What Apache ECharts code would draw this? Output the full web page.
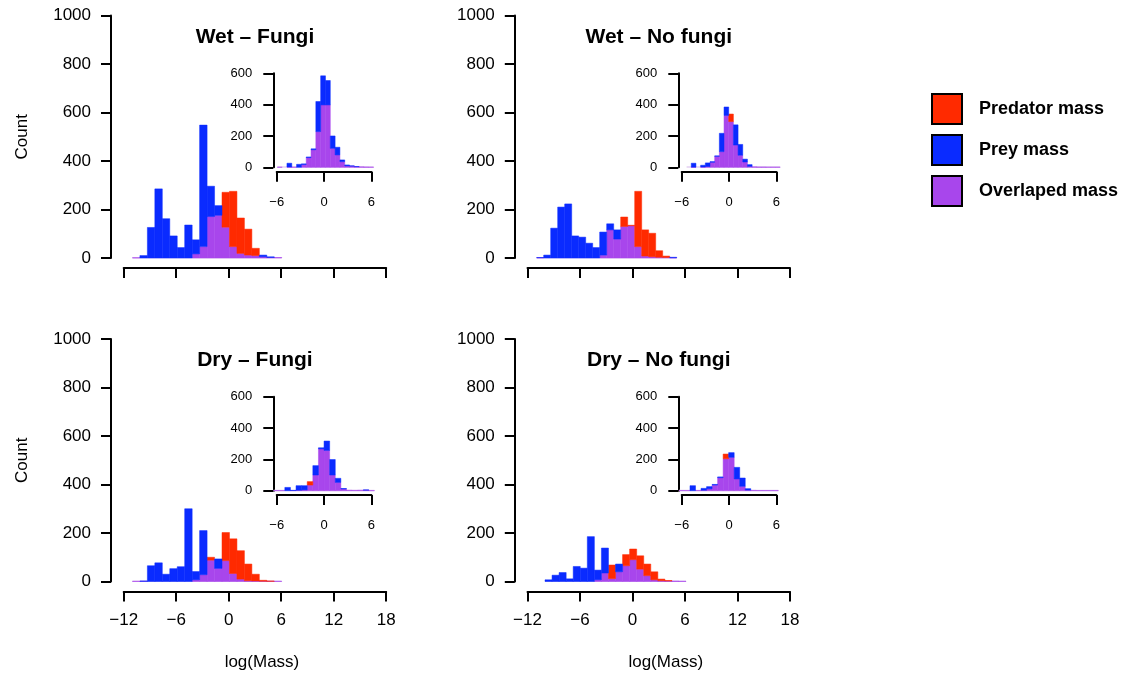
<!DOCTYPE html>
<html>
<head>
<meta charset="utf-8">
<title>Predator and prey body mass</title>
<script src="https://cdn.jsdelivr.net/npm/echarts@6/dist/echarts.min.js"></script>
<style>
  html, body { margin: 0; padding: 0; background: #fff; }
  #chart { width: 1137px; height: 675px; }
</style>
</head>
<body>
<div id="chart"></div>
<script>
// ---- data ---------------------------------------------------------------
const panelTitles = ['Wet \u2013 Fungi', 'Wet \u2013 No fungi', 'Dry \u2013 Fungi', 'Dry \u2013 No fungi'];
const seriesNames = ['Predator mass', 'Prey mass', 'Overlaped mass'];

// main histograms: first break and bin width of log(Mass)
const mainBreakStart = [-11.0, -10.95, -11.0, -10.0];
const mainBinWidth   = [0.853, 0.8, 0.853, 0.806];

const predWetFungi   = [1, 0, 0, 0, 0, 0, 0, 0, 17, 47, 171, 176, 271, 275, 165, 119, 40, 5, 2, 2];
const preyWetFungi   = [1, 10, 126, 285, 162, 91, 43, 136, 75, 548, 296, 216, 127, 47, 19, 12, 10, 12, 5, 2];
const predWetNoFungi = [1, 0, 0, 0, 0, 0, 0, 0, 0, 12, 116, 78, 169, 135, 275, 116, 102, 30, 8, 1];
const preyWetNoFungi = [2, 12, 123, 210, 223, 91, 86, 61, 43, 107, 141, 116, 130, 133, 47, 8, 5, 3, 2, 3];
const predDryFungi   = [1, 1, 0, 0, 0, 0, 0, 0, 7, 28, 100, 54, 202, 176, 127, 72, 30, 5, 2, 1];
const preyDryFungi   = [1, 2, 65, 77, 30, 53, 61, 300, 41, 210, 88, 93, 86, 33, 10, 3, 2, 1, 1, 1];
const predDryNoFungi = [0, 0, 0, 0, 0, 0, 0, 7, 35, 68, 40, 111, 134, 106, 72, 40, 10, 4, 2, 1];
const preyDryNoFungi = [7, 26, 37, 11, 62, 55, 185, 47, 138, 12, 72, 65, 90, 51, 24, 7, 3, 2, 2, 1];

// inset histograms
const insetBreakStart = [-5.92, -5.38, -6.39, -6.35];
const insetBinWidth   = [0.61, 0.593, 0.71, 0.7];

const predInWetFungi   = [1, 0, 2, 1, 0, 18, 62, 112, 228, 398, 398, 121, 79, 36, 9, 8, 4, 3, 2, 1];
const preyInWetFungi   = [1, 0, 26, 1, 19, 22, 66, 118, 420, 584, 554, 200, 128, 47, 15, 9, 5, 3, 2, 1];
const predInWetNoFungi = [0, 1, 0, 2, 5, 32, 70, 100, 331, 340, 142, 77, 34, 6, 3, 2, 2, 1, 1, 1];
const preyInWetNoFungi = [0, 26, 0, 13, 28, 36, 73, 217, 385, 292, 271, 146, 52, 17, 3, 2, 2, 1, 1, 1];
const predInDryFungi   = [1, 1, 0, 1, 3, 5, 58, 100, 267, 257, 100, 53, 11, 3, 2, 3, 4, 1];
const preyInDryFungi   = [1, 1, 21, 2, 32, 32, 36, 160, 274, 317, 199, 79, 14, 3, 2, 3, 5, 1];
const predInDryNoFungi = [1, 1, 0, 1, 3, 12, 36, 83, 234, 213, 75, 28, 4, 2, 1, 1, 1, 1];
const preyInDryNoFungi = [1, 1, 32, 1, 15, 26, 40, 88, 204, 243, 149, 81, 13, 2, 1, 1, 1, 1];

// axis ticks
const mainXTicks  = { min: -12, max: 18, step: 6 };
const mainYTicks  = { min: 0, max: 1000, step: 200 };
const insetXTicks = { min: -6, max: 6, step: 6 };
const insetYTicks = { min: 0, max: 600, step: 200 };

// ---- styling / layout ---------------------------------------------------
const FONT = '"Liberation Sans", Arial, Helvetica, sans-serif';
const COLORS = { 'Predator mass': '#ff2a00', 'Prey mass': '#0a2bff', 'Overlaped mass': '#a846ec' };
const BASE_COLOR = '#e3cff2';

const panels = [
  { pred: predWetFungi,   prey: preyWetFungi,   inPred: predInWetFungi,   inPrey: preyInWetFungi },
  { pred: predWetNoFungi, prey: preyWetNoFungi, inPred: predInWetNoFungi, inPrey: preyInWetNoFungi },
  { pred: predDryFungi,   prey: preyDryFungi,   inPred: predInDryFungi,   inPrey: preyInDryFungi },
  { pred: predDryNoFungi, prey: preyDryNoFungi, inPred: predInDryNoFungi, inPrey: preyInDryNoFungi }
];

const mainLeft = [123.7, 527.5, 123.7, 527.5];
const mainTop  = [15.5, 15.5, 339, 339];
const MAIN_W = 262.5, MAIN_H = 242.5;
const insetLeft = [276.7, 681.7, 276.7, 681.7];
const insetTop  = [73.3, 73.3, 396.7, 396.7];
const INSET_W = 94.7, INSET_H = 94;

// plain numbers with a true minus sign, no thousands separator
const fmt = v => String(v).replace('-', '\u2212');

// one rectangle per bin, from y0 to y1
function renderBin(params, api) {
  const x0 = api.value(0), x1 = api.value(1), y0 = api.value(2), y1 = api.value(3);
  if (!(y1 > y0)) return null;
  const a = api.coord([x0, y0]);
  const b = api.coord([x1, y1]);
  const fill = api.visual('color');
  return {
    type: 'rect',
    shape: { x: a[0], y: b[1], width: b[0] - a[0], height: a[1] - b[1] },
    style: { fill: fill, stroke: fill, lineWidth: 0.5 }
  };
}

// thin line along the bottom of all bins
function renderBase(params, api) {
  const a = api.coord([api.value(0), 0]);
  const b = api.coord([api.value(1), 0]);
  return {
    type: 'rect',
    shape: { x: a[0], y: a[1] - 1, width: b[0] - a[0], height: 1.5 },
    style: { fill: BASE_COLOR }
  };
}

// split predator / prey counts into overlap + excess pieces
function histSeries(pred, prey, start, width, axisIndex) {
  const overlap = [], predEx = [], preyEx = [];
  pred.forEach((p, i) => {
    const q = prey[i];
    const x0 = start + i * width, x1 = x0 + width;
    const m = Math.min(p, q);
    overlap.push([x0, x1, 0, m]);
    predEx.push([x0, x1, m, p > q ? p : m]);
    preyEx.push([x0, x1, m, q > p ? q : m]);
  });
  const common = (name, data, color) => ({
    type: 'custom', name: name, renderItem: name ? renderBin : renderBase,
    xAxisIndex: axisIndex, yAxisIndex: axisIndex,
    encode: { x: [0, 1], y: name ? [2, 3] : [] },
    itemStyle: { color: color }, data: data, silent: true, animation: false
  });
  return [
    common('', [[start, start + pred.length * width]], BASE_COLOR),
    common('Overlaped mass', overlap, COLORS['Overlaped mass']),
    common('Predator mass', predEx, COLORS['Predator mass']),
    common('Prey mass', preyEx, COLORS['Prey mass'])
  ];
}

const axisLineStyle = { color: '#000', width: 2 };
const grid = [], xAxis = [], yAxis = [], series = [], title = [];

panels.forEach((pn, i) => {
  const bottom = i >= 2, leftCol = i % 2 === 0;
  const gMain = 2 * i, gInset = 2 * i + 1;

  grid.push({ left: mainLeft[i], top: mainTop[i], width: MAIN_W, height: MAIN_H });
  grid.push({ left: insetLeft[i], top: insetTop[i], width: INSET_W, height: INSET_H });

  xAxis.push({
    gridIndex: gMain, type: 'value', min: mainXTicks.min, max: mainXTicks.max, interval: mainXTicks.step,
    offset: 10,
    axisLine: { show: true, onZero: false, lineStyle: axisLineStyle },
    axisTick: { show: true, length: 10, lineStyle: axisLineStyle },
    axisLabel: { show: bottom, margin: 20, fontSize: 17, color: '#000', fontFamily: FONT, formatter: fmt },
    splitLine: { show: false },
    name: bottom ? 'log(Mass)' : '', nameLocation: 'middle', nameGap: 62,
    nameTextStyle: { fontSize: 17, color: '#000', fontFamily: FONT, padding: [0, 0, 0, 14] }
  });
  yAxis.push({
    gridIndex: gMain, type: 'value', min: mainYTicks.min, max: mainYTicks.max, interval: mainYTicks.step,
    offset: 12.7,
    axisLine: { show: true, onZero: false, lineStyle: axisLineStyle },
    axisTick: { show: true, length: 10, lineStyle: axisLineStyle },
    axisLabel: { margin: 20, fontSize: 17, color: '#000', fontFamily: FONT, formatter: fmt },
    splitLine: { show: false },
    name: leftCol ? 'Count' : '', nameLocation: 'middle', nameGap: 80, nameRotate: 90,
    nameTextStyle: { fontSize: 17, color: '#000', fontFamily: FONT }
  });

  xAxis.push({
    gridIndex: gInset, type: 'value', min: insetXTicks.min, max: insetXTicks.max, interval: insetXTicks.step,
    offset: 4.4,
    axisLine: { show: true, onZero: false, lineStyle: axisLineStyle },
    axisTick: { show: true, length: 10, lineStyle: axisLineStyle },
    axisLabel: { margin: 24, fontSize: 13, color: '#000', fontFamily: FONT, formatter: fmt },
    splitLine: { show: false }
  });
  yAxis.push({
    gridIndex: gInset, type: 'value', min: insetYTicks.min, max: insetYTicks.max, interval: insetYTicks.step,
    offset: 3.4,
    axisLine: { show: true, onZero: false, lineStyle: axisLineStyle },
    axisTick: { show: true, length: 10, lineStyle: axisLineStyle },
    axisLabel: { margin: 21, fontSize: 13, color: '#000', fontFamily: FONT, formatter: fmt },
    splitLine: { show: false }
  });

  series.push(...histSeries(pn.pred, pn.prey, mainBreakStart[i], mainBinWidth[i], gMain));
  series.push(...histSeries(pn.inPred, pn.inPrey, insetBreakStart[i], insetBinWidth[i], gInset));

  title.push({
    text: panelTitles[i], left: mainLeft[i] + MAIN_W / 2, top: mainTop[i] + 11, textAlign: 'center', padding: 0,
    textStyle: { fontSize: 21, fontWeight: 'bold', color: '#000', fontFamily: FONT }
  });
});

const chart = echarts.init(document.getElementById('chart'), null, { renderer: 'canvas' });
chart.setOption({
  backgroundColor: '#fff',
  animation: false,
  title: title,
  legend: {
    orient: 'vertical', left: 931, top: 93, padding: 0,
    itemWidth: 30, itemHeight: 30, itemGap: 9, icon: 'rect', selectedMode: false,
    data: seriesNames,
    itemStyle: { borderColor: '#000', borderWidth: 2 },
    textStyle: { fontSize: 18, fontWeight: 'bold', color: '#000', fontFamily: FONT, padding: [0, 0, 0, 12] }
  },
  grid: grid,
  xAxis: xAxis,
  yAxis: yAxis,
  series: series
});
</script>
</body>
</html>
